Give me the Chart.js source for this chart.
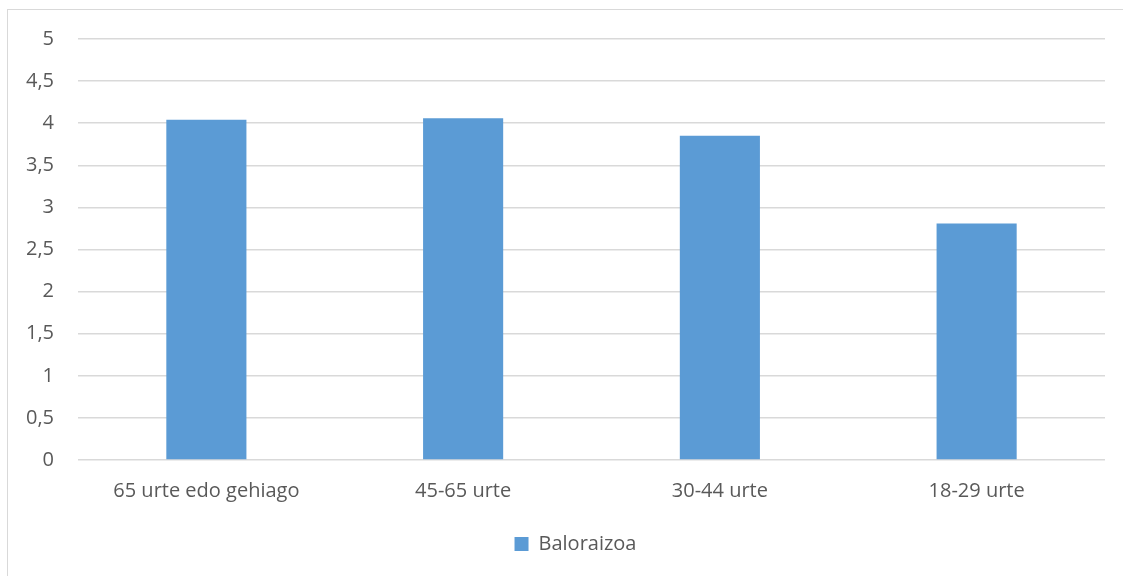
<!DOCTYPE html>
<html>
<head>
<meta charset="utf-8">
<script src="https://cdn.jsdelivr.net/npm/chart.js@4/dist/chart.umd.min.js"></script>
<style>
  html, body { margin: 0; padding: 0; background: #fff; overflow: hidden; }
  #frame {
    position: absolute; left: 7px; top: 9px;
    width: 1130px; height: 600px;
    border: 1px solid #d9d9d9;
  }
  #wrap { position: absolute; left: 0; top: 0; width: 1123px; height: 576px; }
</style>
</head>
<body>
<div id="frame"></div>
<div id="wrap"><canvas id="chart"></canvas></div>
<script>
// data
const categories = ["65 urte edo gehiago", "45-65 urte", "30-44 urte", "18-29 urte"];
const seriesName = "Baloraizoa";
const values = [4.04, 4.06, 3.85, 2.81];
const yTicks = [0, 0.5, 1, 1.5, 2, 2.5, 3, 3.5, 4, 4.5, 5];

const textColor = "#595959";
const gridColor = "#d9d9d9";
const barColor = "#5b9bd5";
const fontFamily = "'Open Sans', 'Noto Sans', sans-serif";

// legend sits a bit right of the canvas centre in the original
const legendShift = {
    id: "legendShift",
    afterLayout(chart) {
        if (chart.legend) {
            chart.legend.left += 23;
            chart.legend.right += 23;
        }
    },
};

const ctx = document.getElementById("chart");
new Chart(ctx, {
    type: "bar",
    data: {
        labels: categories,
        datasets: [
            {
                label: seriesName,
                data: values,
                backgroundColor: barColor,
                categoryPercentage: 1,
                barPercentage: 0.312,
            },
        ],
    },
    options: {
        responsive: true,
        maintainAspectRatio: false,
        animation: false,
        layout: {
            padding: { left: 0, right: 18, top: 39, bottom: 12 },
        },
        scales: {
            x: {
                grid: { display: false, drawTicks: false },
                border: { display: false },
                ticks: {
                    color: textColor,
                    font: { family: fontFamily, size: 20 },
                    padding: 19,
                    maxRotation: 0,
                },
                afterFit: (scale) => { scale.height = 64; },
            },
            y: {
                min: 0,
                max: 5,
                afterBuildTicks: (scale) => {
                    scale.ticks = yTicks.map((v) => ({ value: v }));
                },
                grid: { color: gridColor, lineWidth: 1.5, drawTicks: false },
                border: { display: false },
                ticks: {
                    color: textColor,
                    font: { family: fontFamily, size: 20 },
                    padding: 24,
                    callback: (v) => String(v).replace(".", ","),
                },
                afterFit: (scale) => { scale.width = 78; },
            },
        },
        plugins: {
            legend: {
                position: "bottom",
                labels: {
                    color: textColor,
                    font: { family: fontFamily, size: 20 },
                    boxWidth: 14,
                    boxHeight: 14,
                    padding: 10,
                },
            },
            tooltip: { enabled: false },
        },
    },
    plugins: [legendShift],
});
</script>
</body>
</html>
